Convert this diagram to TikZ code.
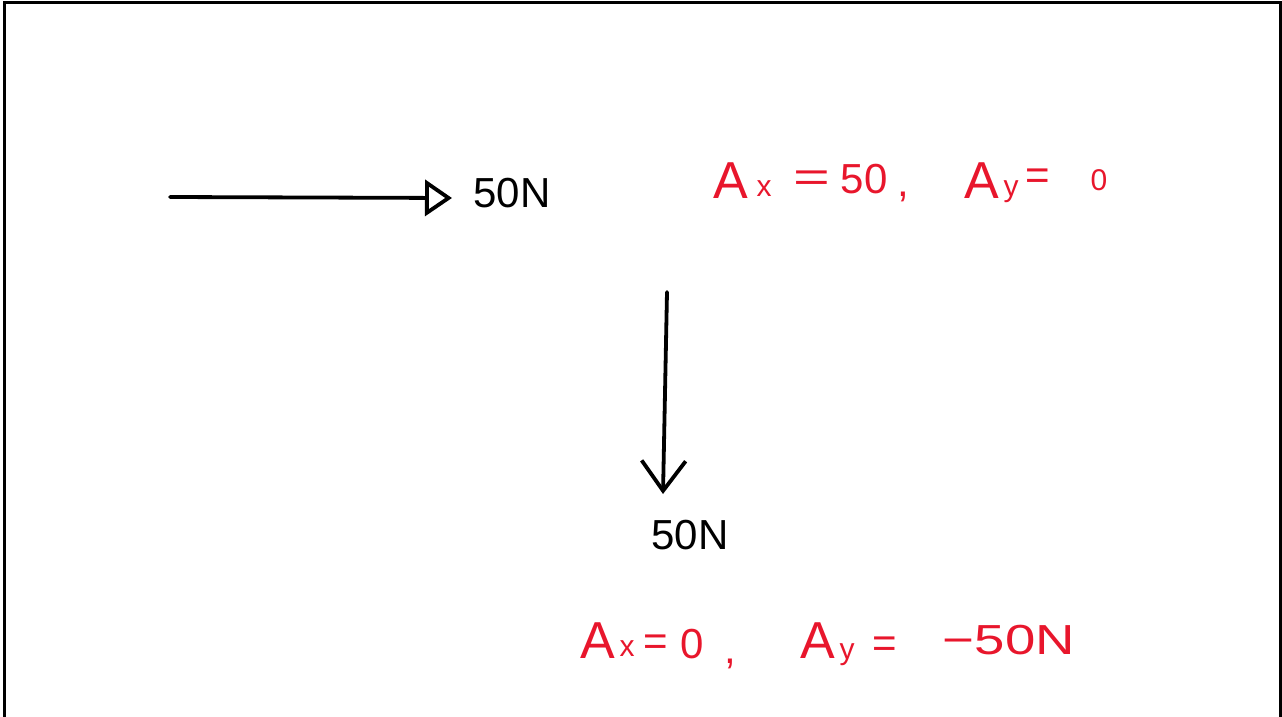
\documentclass[tikz,border=0pt]{standalone}
\usepackage{fontspec}
\setmainfont{Liberation Sans}
\usetikzlibrary{arrows.meta}
\definecolor{inkred}{RGB}{232,22,44}
\tikzset{
  pen/.style={line width=3.8pt, line cap=round, line join=round, black},
  frameline/.style={line width=3pt, black},
  blk/.style={inner sep=0pt, text=black, font=\fontsize{42}{42}\selectfont},
  redbig/.style={inner sep=0pt, text=inkred, font=\fontsize{52}{52}\selectfont},
  redmid/.style={inner sep=0pt, text=inkred, font=\fontsize{42}{42}\selectfont},
  redsub/.style={inner sep=0pt, text=inkred, font=\fontsize{30}{30}\selectfont},
  wide/.style={xscale=#1, transform shape},
}
\begin{document}
\begin{tikzpicture}[x=1pt,y=-1pt]
\useasboundingbox (0,0) rectangle (1282,717);
% frame (open at the bottom)
\draw[frameline] (4,717) -- (4,3) -- (1280,3) -- (1280,717);

% horizontal force
\coordinate (h1) at (170,197);
\coordinate (h2) at (452,198);
\draw[pen, -{Triangle[open,length=27pt,width=36pt,line width=3.8pt]}] (h1) -- (h2);
\node[blk] (hlab) at (512,193) {50N};

% vertical force
\coordinate (v1) at (667,292);
\coordinate (v2) at (663,494);
\draw[pen, -{Straight Barb[length=30pt,width=44pt,line width=3.8pt]}] (v1) -- (v2);
\node[blk] (vlab) at (690,535) {50N};

% first red result
\node[redbig] (a1) at (731,181) {A};
\node[redsub] (a1x) at (764,189) {x};
\node[redmid, wide=1.5] (e1) at (812,181) {=};
\node[redmid] (n1) at (864,179) {50};
\node[redmid] (c1) at (903,197) {,};
\node[redbig] (a2) at (982,181) {A};
\node[redsub] (a2y) at (1011,192) {y};
\node[redmid] (e2) at (1038,179) {=};
\node[redsub] (n2) at (1099,180) {0};

% second red result
\node[redbig] (b1) at (598,641) {A};
\node[redsub] (b1x) at (627,649) {x};
\node[redmid] (f1) at (656,645) {=};
\node[redmid] (m1) at (692,644) {0};
\node[redmid] (d1) at (730,664) {,};
\node[redbig] (b2) at (818,641) {A};
\node[redsub] (b2y) at (847,655) {y};
\node[redmid] (f2) at (885,647) {=};
\node[redmid, wide=1.3] (m2) at (1009,640) {−50N};
\end{tikzpicture}
\end{document}
